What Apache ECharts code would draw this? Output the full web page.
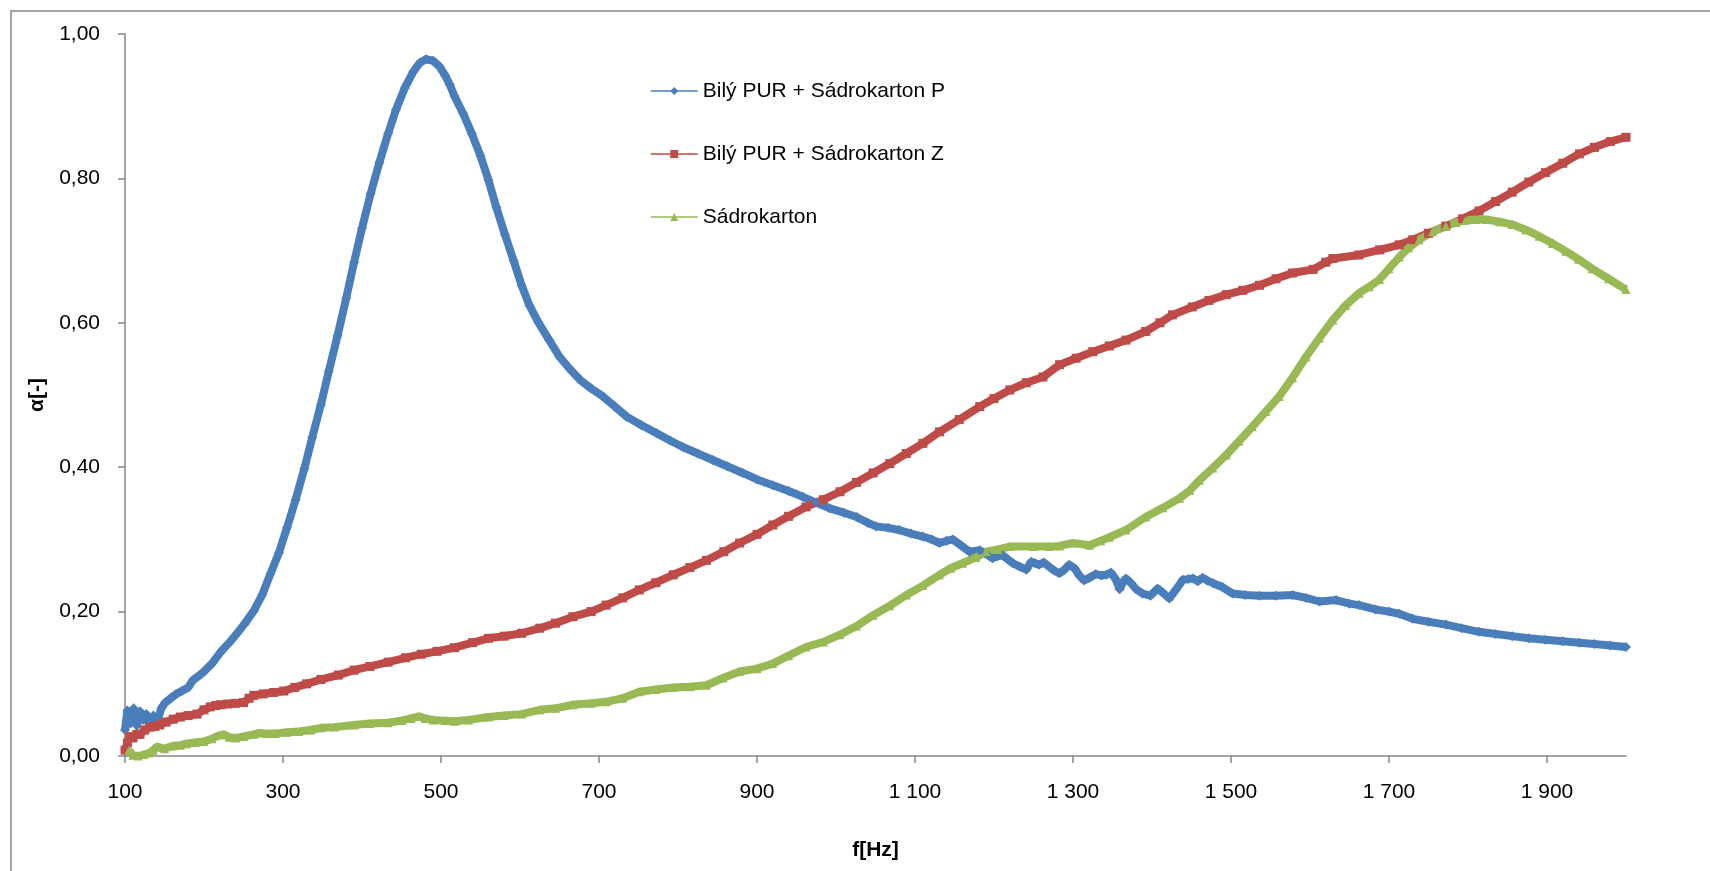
<!DOCTYPE html>
<html>
<head>
<meta charset="utf-8">
<title>α – f</title>
<script src="https://cdn.jsdelivr.net/npm/echarts@6/dist/echarts.min.js"></script>
<style>
  html, body { margin: 0; padding: 0; background: #fff; }
  #chart { width: 1710px; height: 871px; }
</style>
</head>
<body>
<div id="chart"></div>
<script>
// Frequencies [Hz] and absorption coefficients for each measured sample
const freqP = [100,103,107,111,115,119,123,127,131,136,141,146,151,158,165,172,180,186,191,200,210,221,232,242,252,263,274,284,295,305,316,327,337,348,358,369,380,390,400,411,422,433,443,454,465,473,481,490,498,505,511,517,528,539,550,560,570,581,592,602,612,623,637,650,663,676,690,705,720,735,754,773,790,806,825,844,863,882,900,920,940,958,975,992,1010,1026,1040,1051,1066,1080,1095,1110,1121,1131,1140,1148,1158,1169,1182,1190,1198,1205,1211,1218,1224,1233,1241,1247,1252,1257,1263,1270,1276,1283,1289,1295,1302,1308,1314,1321,1329,1336,1342,1348,1354,1359,1364,1367,1373,1380,1388,1398,1407,1414,1422,1430,1439,1446,1452,1458,1464,1470,1478,1489,1502,1518,1536,1557,1578,1595,1612,1633,1650,1662,1683,1700,1713,1730,1750,1772,1792,1814,1835,1856,1877,1898,1920,1941,1960,1980,2000];
const alphaP = [0.036,0.063,0.045,0.066,0.042,0.062,0.050,0.058,0.044,0.056,0.048,0.066,0.074,0.080,0.086,0.090,0.095,0.105,0.109,0.117,0.128,0.144,0.157,0.170,0.184,0.201,0.224,0.252,0.282,0.316,0.355,0.398,0.441,0.487,0.533,0.582,0.634,0.684,0.731,0.779,0.822,0.862,0.895,0.925,0.948,0.960,0.965,0.963,0.955,0.943,0.930,0.914,0.890,0.862,0.831,0.798,0.760,0.722,0.686,0.652,0.624,0.601,0.576,0.553,0.536,0.521,0.509,0.498,0.484,0.470,0.458,0.447,0.437,0.428,0.419,0.410,0.401,0.392,0.383,0.375,0.367,0.359,0.351,0.343,0.337,0.331,0.323,0.318,0.316,0.313,0.308,0.304,0.300,0.295,0.298,0.300,0.292,0.283,0.285,0.280,0.274,0.277,0.278,0.272,0.267,0.262,0.258,0.269,0.267,0.265,0.268,0.262,0.257,0.253,0.258,0.265,0.260,0.250,0.243,0.247,0.252,0.250,0.251,0.254,0.245,0.231,0.242,0.246,0.240,0.231,0.225,0.222,0.232,0.226,0.218,0.230,0.244,0.245,0.246,0.242,0.247,0.243,0.239,0.234,0.225,0.223,0.222,0.222,0.223,0.219,0.214,0.216,0.211,0.209,0.203,0.200,0.197,0.190,0.186,0.182,0.177,0.172,0.169,0.166,0.163,0.161,0.159,0.157,0.155,0.153,0.151];

const freqZ = [100,103,106,110,115,119,125,132,138,144,152,161,170,180,191,200,208,215,221,230,240,250,257,263,275,288,301,315,330,348,370,390,410,433,455,475,495,517,540,560,580,602,625,645,667,690,709,730,751,772,794,815,836,858,878,900,920,940,962,984,1005,1026,1047,1068,1089,1110,1131,1156,1182,1200,1220,1241,1262,1283,1304,1325,1346,1367,1392,1410,1426,1451,1472,1494,1515,1536,1557,1578,1604,1620,1629,1662,1688,1713,1730,1750,1772,1793,1814,1835,1856,1877,1898,1920,1941,1960,1980,2000];
const alphaZ = [0.008,0.018,0.027,0.025,0.030,0.030,0.036,0.040,0.041,0.043,0.047,0.051,0.054,0.056,0.058,0.064,0.068,0.070,0.071,0.072,0.073,0.074,0.080,0.084,0.086,0.088,0.090,0.095,0.100,0.106,0.112,0.119,0.124,0.130,0.136,0.141,0.145,0.150,0.157,0.163,0.166,0.170,0.177,0.184,0.193,0.200,0.209,0.219,0.230,0.240,0.251,0.261,0.271,0.283,0.295,0.307,0.320,0.332,0.345,0.355,0.366,0.379,0.392,0.405,0.419,0.433,0.449,0.466,0.484,0.495,0.507,0.517,0.525,0.542,0.551,0.560,0.568,0.576,0.588,0.600,0.611,0.622,0.631,0.639,0.645,0.652,0.661,0.669,0.674,0.684,0.689,0.694,0.701,0.708,0.715,0.724,0.734,0.744,0.755,0.768,0.781,0.795,0.808,0.821,0.834,0.843,0.851,0.857];

const freqS = [105,110,117,124,130,136,140,144,150,160,170,178,190,200,210,220,225,232,240,250,263,270,280,290,305,320,335,348,365,390,410,433,450,462,472,480,490,505,517,535,560,580,602,625,645,667,690,709,730,751,772,794,815,836,857,878,900,920,940,962,984,1005,1026,1047,1068,1089,1110,1131,1145,1160,1177,1190,1205,1220,1250,1270,1283,1300,1321,1335,1346,1367,1392,1414,1435,1448,1460,1477,1494,1510,1527,1544,1561,1578,1595,1612,1629,1645,1662,1675,1688,1700,1713,1725,1738,1755,1772,1785,1797,1810,1823,1840,1856,1873,1890,1907,1924,1940,1957,1978,2000];
const alphaS = [0.008,0.001,0.000,0.002,0.004,0.008,0.013,0.012,0.010,0.014,0.015,0.017,0.019,0.020,0.024,0.029,0.030,0.026,0.025,0.027,0.030,0.032,0.031,0.031,0.033,0.034,0.036,0.039,0.040,0.043,0.045,0.046,0.049,0.052,0.055,0.052,0.050,0.049,0.048,0.050,0.054,0.056,0.058,0.064,0.066,0.071,0.073,0.075,0.080,0.089,0.092,0.095,0.096,0.098,0.108,0.117,0.121,0.128,0.139,0.151,0.158,0.168,0.180,0.195,0.208,0.223,0.236,0.251,0.260,0.267,0.275,0.283,0.286,0.290,0.290,0.290,0.291,0.295,0.292,0.298,0.303,0.313,0.331,0.344,0.357,0.368,0.382,0.399,0.417,0.436,0.456,0.477,0.498,0.524,0.553,0.579,0.604,0.624,0.641,0.650,0.660,0.675,0.691,0.704,0.715,0.726,0.734,0.739,0.742,0.743,0.743,0.740,0.736,0.729,0.720,0.710,0.699,0.688,0.675,0.661,0.646];

const seriesNames = ['Bilý PUR + Sádrokarton P', 'Bilý PUR + Sádrokarton Z', 'Sádrokarton'];
const xTicks = [100, 300, 500, 700, 900, 1100, 1300, 1500, 1700, 1900];
const yTicks = [0, 0.2, 0.4, 0.6, 0.8, 1.0];

const zip = (xs, ys) => xs.map((x, i) => [x, ys[i]]);

const FONT = '"Liberation Sans", Arial, sans-serif';
const AXIS = '#868686';

const chart = echarts.init(document.getElementById('chart'), null, { renderer: 'canvas' });

function lineSeries(name, data, color, symbol, size) {
  return {
    name: name,
    type: 'line',
    data: data,
    symbol: symbol,
    symbolSize: size,
    showSymbol: true,
    showAllSymbol: true,
    animation: false,
    z: 2,
    itemStyle: { color: color, borderWidth: 0 },
    lineStyle: { color: color, width: 8 },
    emphasis: { disabled: true }
  };
}

chart.setOption({
  backgroundColor: '#ffffff',
  animation: false,
  graphic: [{
    type: 'rect',
    shape: { x: 11, y: 11, width: 1800, height: 1000 },
    style: { fill: 'none', stroke: AXIS, lineWidth: 1.5 },
    silent: true,
    z: -1
  }],
  grid: { left: 125, right: 84, top: 34, bottom: 115, containLabel: false },
  legend: {
    orient: 'vertical',
    left: 645,
    top: 74,
    itemWidth: 47,
    itemHeight: 10,
    itemGap: 39,
    lineStyle: { width: 1.5 },
    textStyle: { fontFamily: FONT, fontSize: 21, color: '#000', lineHeight: 24 },
    data: seriesNames,
    selectedMode: false
  },
  xAxis: {
    type: 'value',
    min: 100,
    max: 2000,
    interval: 200,
    name: 'f[Hz]',
    nameLocation: 'middle',
    nameGap: 84,
    nameTextStyle: { fontFamily: FONT, fontSize: 21, fontWeight: 'bold', color: '#000' },
    axisLine: { show: true, onZero: false, lineStyle: { color: AXIS, width: 1.5 } },
    axisTick: { show: true, inside: false, length: 7, customValues: xTicks, lineStyle: { color: AXIS, width: 1.5 } },
    axisLabel: {
      customValues: xTicks,
      margin: 26,
      fontFamily: FONT, fontSize: 21, color: '#000',
      formatter: v => String(v).replace(/\B(?=(\d{3})+(?!\d))/g, ' ')
    },
    splitLine: { show: false }
  },
  yAxis: {
    type: 'value',
    min: 0,
    max: 1,
    interval: 0.2,
    name: 'α[-]',
    nameLocation: 'middle',
    nameGap: 77,
    nameRotate: 90,
    nameTextStyle: { fontFamily: FONT, fontSize: 21, fontWeight: 'bold', color: '#000' },
    axisLine: { show: true, lineStyle: { color: AXIS, width: 1.5 } },
    axisTick: { show: true, inside: false, length: 7, customValues: yTicks, lineStyle: { color: AXIS, width: 1.5 } },
    axisLabel: {
      customValues: yTicks,
      margin: 25,
      fontFamily: FONT, fontSize: 21, color: '#000',
      formatter: v => v.toFixed(2).replace('.', ',')
    },
    splitLine: { show: false }
  },
  series: [
    lineSeries(seriesNames[0], zip(freqP, alphaP), '#4A7EBB', 'diamond', 10),
    lineSeries(seriesNames[1], zip(freqZ, alphaZ), '#BE4B48', 'rect', 9),
    lineSeries(seriesNames[2], zip(freqS, alphaS), '#98B954', 'triangle', 9)
  ]
});
</script>
</body>
</html>
